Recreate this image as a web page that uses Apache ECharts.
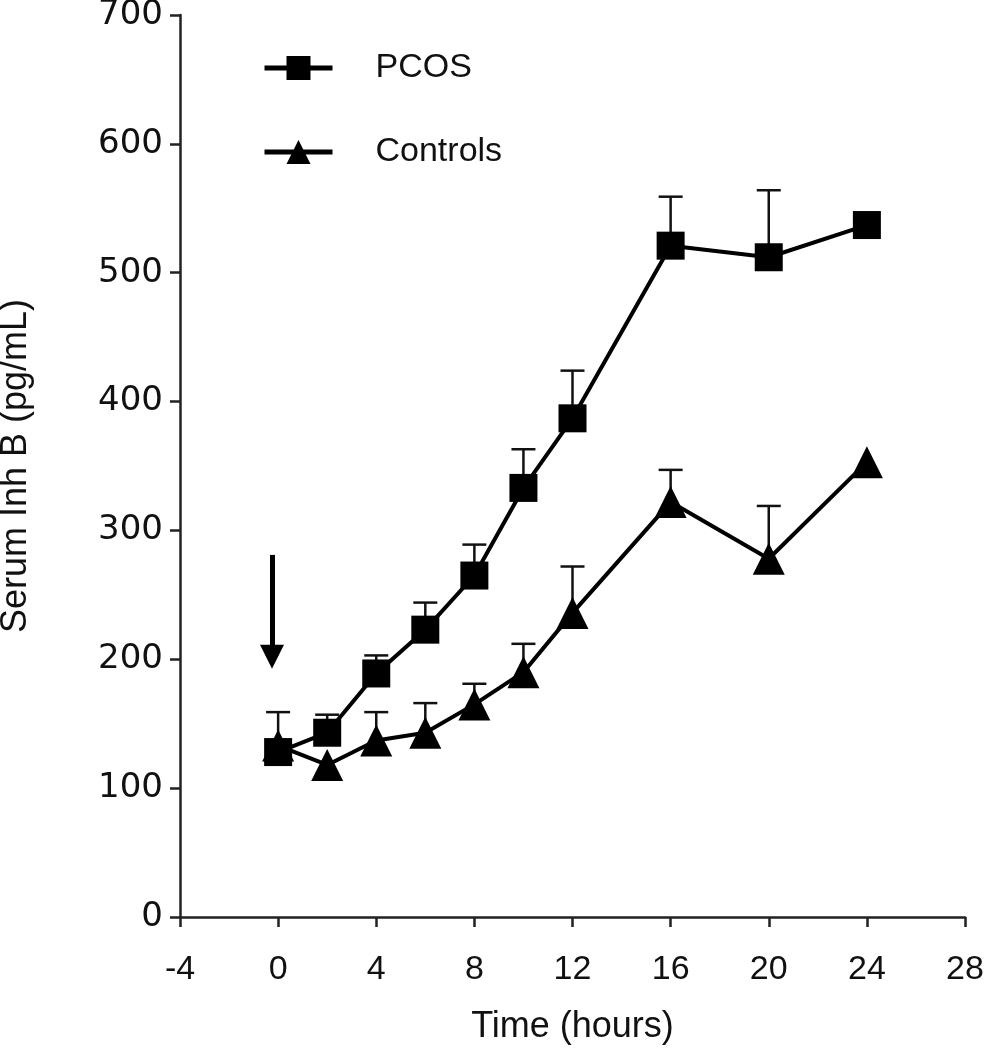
<!DOCTYPE html>
<html>
<head>
<meta charset="utf-8">
<script src="https://cdn.jsdelivr.net/npm/echarts@6/dist/echarts.min.js"></script>
<style>
  html, body { margin: 0; padding: 0; background: #fff; }
  #main { width: 986px; height: 1050px; }
</style>
</head>
<body>
<div id="main"></div>
<script>
// time points (hours)
const hours = [0, 2, 4, 6, 8, 10, 12, 16, 20, 24];

// mean values (pg/mL)
const pcosMean = [128, 143, 189, 223, 265, 333, 387, 521, 512, 537];
const controlsMean = [133, 118, 137, 143, 165, 190, 236, 322, 278, 353];

// upper end of error bars (mean + SEM), null where no bar is drawn
const pcosUpper = [null, 157, 203, 244, 289, 363, 424, 559, 564, null];
const controlsUpper = [159, null, 159, 166, 181, 212, 272, 347, 319, null];

// arrow marking the injection time
const arrowX = -0.25;
const arrowFrom = 281;
const arrowTo = 202;

const xTicks = { min: -4, max: 28, interval: 4 };
const yTicks = { min: 0, max: 700, interval: 100 };

const chart = echarts.init(document.getElementById('main'));

function pairs(xs, ys) {
    return xs.map((x, i) => [x, ys[i]]);
}

function errorData(xs, ys, ups) {
    const out = [];
    xs.forEach((x, i) => {
        if (ups[i] != null) out.push([x, ys[i], ups[i]]);
    });
    return out;
}

// vertical bar from the mean up to the upper value, with a cap
function renderErrorBar(params, api) {
    const base = api.coord([api.value(0), api.value(1)]);
    const top = api.coord([api.value(0), api.value(2)]);
    const half = 12;
    const style = { stroke: '#111', lineWidth: 2.5 };
    return {
        type: 'group',
        children: [
            { type: 'line', shape: { x1: base[0], y1: base[1], x2: top[0], y2: top[1] }, style: style },
            { type: 'line', shape: { x1: top[0] - half, y1: top[1], x2: top[0] + half, y2: top[1] }, style: style }
        ]
    };
}

const axisFont = 'Liberation Sans, Arial, sans-serif';

const option = {
    backgroundColor: '#fff',
    animation: false,
    grid: { left: 180, right: 21, top: 15, bottom: 133, outerBoundsMode: 'none', containLabel: false },
    legend: {
        orient: 'vertical',
        left: 257,
        top: 46,
        itemWidth: 68,
        itemHeight: 30,
        itemGap: 50,
        data: ['PCOS', 'Controls'],
        lineStyle: { width: 5 },
        textStyle: { fontSize: 34, fontFamily: axisFont, color: '#111', padding: [0, 0, 0, 38] }
    },
    xAxis: {
        type: 'value',
        min: xTicks.min,
        max: xTicks.max,
        interval: xTicks.interval,
        name: 'Time (hours)',
        nameLocation: 'middle',
        nameGap: 92,
        nameTextStyle: { fontSize: 36, fontFamily: axisFont, color: '#111' },
        splitLine: { show: false },
        axisLine: { onZero: false, lineStyle: { color: '#222', width: 2.5 } },
        axisTick: { length: 10, lineStyle: { color: '#222', width: 2.5 } },
        axisLabel: { fontSize: 34, fontFamily: axisFont, color: '#111', margin: 36 }
    },
    yAxis: {
        type: 'value',
        min: yTicks.min,
        max: yTicks.max,
        interval: yTicks.interval,
        name: 'Serum Inh B (pg/mL)',
        nameLocation: 'middle',
        nameGap: 146,
        nameTextStyle: { fontSize: 36, fontFamily: axisFont, color: '#111' },
        splitLine: { show: false },
        axisLine: { show: true, onZero: false, lineStyle: { color: '#222', width: 2.5 } },
        axisTick: { show: true, length: 10, lineStyle: { color: '#222', width: 2.5 } },
        axisLabel: { fontSize: 34, fontFamily: 'DejaVu Sans, Verdana, sans-serif', color: '#111', margin: 17 }
    },
    series: [
        {
            name: 'PCOS-err',
            type: 'custom',
            renderItem: renderErrorBar,
            data: errorData(hours, pcosMean, pcosUpper),
            z: 1,
            silent: true
        },
        {
            name: 'Controls-err',
            type: 'custom',
            renderItem: renderErrorBar,
            data: errorData(hours, controlsMean, controlsUpper),
            z: 1,
            silent: true
        },
        {
            name: 'PCOS',
            type: 'line',
            data: pairs(hours, pcosMean),
            symbol: 'rect',
            symbolSize: 28,
            itemStyle: { color: '#000' },
            lineStyle: { color: '#000', width: 4 },
            z: 3,
            markLine: {
                silent: true,
                symbol: ['none', 'triangle'],
                symbolSize: [24, 24],
                label: { show: false },
                lineStyle: { color: '#000', width: 5, type: 'solid' },
                data: [[{ coord: [arrowX, arrowFrom] }, { coord: [arrowX, arrowTo] }]]
            }
        },
        {
            name: 'Controls',
            type: 'line',
            data: pairs(hours, controlsMean),
            symbol: 'triangle',
            symbolSize: 32,
            itemStyle: { color: '#000' },
            lineStyle: { color: '#000', width: 4 },
            z: 3
        }
    ]
};

chart.setOption(option);
</script>
</body>
</html>
